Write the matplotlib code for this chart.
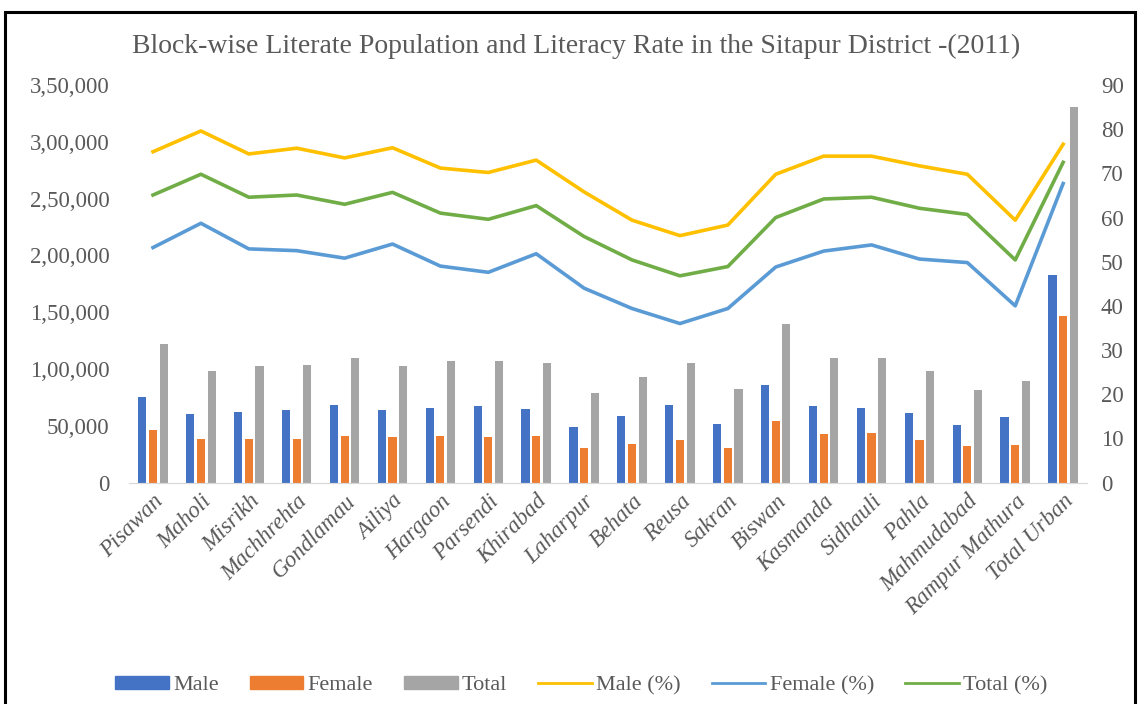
import matplotlib
matplotlib.use("Agg")
import matplotlib.pyplot as plt
import numpy as np
from matplotlib.ticker import FuncFormatter, MultipleLocator
from matplotlib.patches import Patch, Rectangle
from matplotlib.lines import Line2D

plt.rcParams['font.family'] = ['Liberation Serif', 'DejaVu Serif']

# block-wise literate population and literacy rate, Sitapur 2011
blocks = ['Pisawan', 'Maholi', 'Misrikh', 'Machhrehta', 'Gondlamau', 'Ailiya',
          'Hargaon', 'Parsendi', 'Khirabad', 'Laharpur', 'Behata', 'Reusa',
          'Sakran', 'Biswan', 'Kasmanda', 'Sidhauli', 'Pahla', 'Mahmudabad',
          'Rampur Mathura', 'Total Urban']

male = [75000, 60000, 62400, 63500, 68200, 63500, 65900, 67100, 64700, 49100,
        58800, 68200, 51800, 86100, 67100, 65900, 61500, 50600, 57900, 182700]
female = [46200, 38600, 38600, 38600, 41200, 39800, 41200, 39800, 41200, 30700,
          33600, 37400, 30700, 54200, 42400, 43900, 37400, 32400, 33000, 146900]
total = [121700, 98200, 102600, 103200, 109300, 102600, 107000, 107000, 105500, 78500,
         92600, 105500, 82000, 139900, 109300, 109300, 98200, 81400, 89400, 330900]

male_pct = [74.9, 79.6, 74.4, 75.7, 73.5, 75.8, 71.2, 70.2, 73.0, 65.8,
            59.4, 55.9, 58.3, 69.8, 73.9, 73.9, 71.7, 69.8, 59.4, 76.6]
female_pct = [53.2, 58.7, 52.9, 52.5, 50.8, 54.0, 49.0, 47.6, 51.8, 44.0,
              39.4, 36.0, 39.4, 48.8, 52.4, 53.8, 50.6, 49.8, 40.0, 67.7]
total_pct = [65.1, 69.8, 64.6, 65.1, 63.0, 65.7, 61.0, 59.6, 62.7, 55.7,
             50.4, 46.8, 48.9, 60.0, 64.2, 64.6, 62.1, 60.7, 50.4, 72.5]

txt = '#595959'
c_male, c_female, c_total = '#4472C4', '#ED7D31', '#A5A5A5'
c_mp, c_fp, c_tp = '#FFC000', '#5B9BD5', '#70AD47'


def indian(v, pos):
    v = int(round(v))
    s = str(v)
    if len(s) <= 3:
        return s
    head, tail = s[:-3], s[-3:]
    parts = []
    while len(head) > 2:
        parts.insert(0, head[-2:])
        head = head[:-2]
    if head:
        parts.insert(0, head)
    return ','.join(parts) + ',' + tail


fig = plt.figure(figsize=(11.4, 7.04), dpi=100)
ax = fig.add_axes([0.1132, 0.3146, 0.8404, 0.5646])

x = np.arange(len(blocks))
w = 0.17
ax.bar(x - 0.223, male, w, color=c_male, label='Male')
ax.bar(x, female, w, color=c_female, label='Female')
ax.bar(x + 0.223, total, w, color=c_total, label='Total')

ax.set_xlim(-0.5, len(blocks) - 0.5)
ax.set_ylim(0, 350000)
ax.yaxis.set_major_locator(MultipleLocator(50000))
ax.yaxis.set_major_formatter(FuncFormatter(indian))

ax2 = ax.twinx()
ax2.plot(x, male_pct, color=c_mp, lw=2.6, label='Male (%)')
ax2.plot(x, female_pct, color=c_fp, lw=2.6, label='Female (%)')
ax2.plot(x, total_pct, color=c_tp, lw=2.6, label='Total (%)')
ax2.set_ylim(0, 90)
ax2.yaxis.set_major_locator(MultipleLocator(10))

for a in (ax, ax2):
    for s in ('top', 'left', 'right'):
        a.spines[s].set_visible(False)
    a.spines['bottom'].set_color('#D9D9D9')
    a.tick_params(axis='y', length=0, labelsize=16.5, labelcolor=txt)
ax.tick_params(axis='y', pad=14)
ax2.tick_params(axis='y', pad=10)

ax.set_xticks(x)
ax.set_xticklabels(blocks, rotation=45, ha='right', rotation_mode='anchor',
                   fontsize=16.5, color=txt, style='italic')
ax.tick_params(axis='x', length=0, pad=6)

fig.text(0.505, 0.934, 'Block-wise Literate Population and Literacy Rate in the Sitapur District -(2011)',
         ha='center', va='center', fontsize=20, color=txt)

handles = [Patch(color=c_male), Patch(color=c_female), Patch(color=c_total),
           Line2D([], [], color=c_mp, lw=2), Line2D([], [], color=c_fp, lw=2),
           Line2D([], [], color=c_tp, lw=2)]
labels = ['Male', 'Female', 'Total', 'Male (%)', 'Female (%)', 'Total (%)']
fig.legend(handles, labels, loc='center', bbox_to_anchor=(0.51, 0.026), ncol=6,
           frameon=False, fontsize=16, labelcolor=txt, handlelength=2.4,
           handleheight=0.55, handletextpad=0.2, columnspacing=1.4)

# black frame around the figure
fig.patches.append(Rectangle((0.004, -0.01), 0.992, 0.993, transform=fig.transFigure,
                             fill=False, edgecolor='black', lw=2.2))

fig.savefig('out.png', dpi=100)
